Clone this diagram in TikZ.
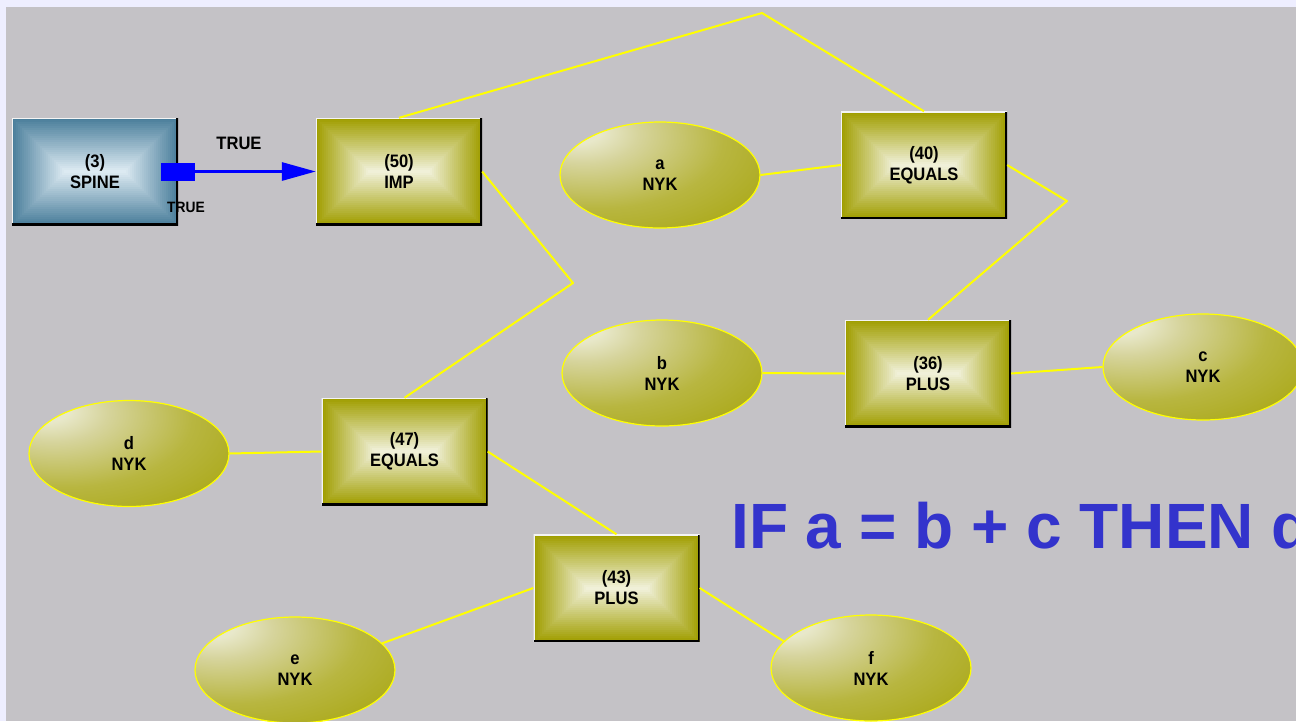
\documentclass[tikz,border=0pt]{standalone}
\usepackage{fontspec}
\setmainfont{Liberation Sans}
\newfontfamily\nodefont[FakeStretch=0.92]{Liberation Sans}
\newfontfamily\titlefont{Liberation Sans}
\usetikzlibrary{calc,arrows.meta,shapes.geometric}

\definecolor{bgcol}{HTML}{C4C2C6}
\definecolor{lavcol}{HTML}{EEEEFF}
\definecolor{boxdark}{HTML}{A09E00}
\definecolor{boxlight}{HTML}{F0F0D8}
\definecolor{spinedark}{HTML}{4A7E9B}
\definecolor{spinelight}{HTML}{DCEAF2}
\definecolor{elhi}{HTML}{E8E8CA}
\definecolor{elsoft}{HTML}{D6D49C}
\definecolor{elmid}{HTML}{B8B640}
\definecolor{eldark}{HTML}{A2A000}
\definecolor{bevelhi}{HTML}{F4F4F4}
\definecolor{wirecol}{HTML}{FFFF00}
\definecolor{titleblue}{HTML}{3333CC}
\definecolor{linkblue}{HTML}{0000FF}

\pgfdeclareradialshading{ellshade}{\pgfpoint{-22bp}{22bp}}{%
  color(0bp)=(elhi); color(6bp)=(elhi); color(14bp)=(elsoft);
  color(32bp)=(elmid); color(58bp)=(eldark); color(120bp)=(eldark)}

\newcommand\bevelfill[2]{%
  \foreach \i in {0,...,26}{%
    \pgfmathtruncatemacro\pp{100-\i*100/26}%
    \fill[#1!\pp!#2] ($(path picture bounding box.south west)+(\i*2pt,\i*2pt)$)
      rectangle ($(path picture bounding box.north east)-(\i*2pt,\i*2pt)$);
  }%
  \draw[line width=2pt, bevelhi] (path picture bounding box.south west) |- (path picture bounding box.north east);
  \draw[line width=4pt, black] (path picture bounding box.north east) |- (path picture bounding box.south west);
}

\tikzset{
  nodetext/.style={font=\nodefont\bfseries\fontsize{18}{21}\selectfont, align=center, text=black},
  opbox/.style={rectangle, minimum width=166pt, minimum height=107pt, inner sep=0pt,
    nodetext, path picture={\bevelfill{boxdark}{boxlight}}},
  spinebox/.style={rectangle, minimum width=166pt, minimum height=107pt, inner sep=0pt,
    nodetext, path picture={\bevelfill{spinedark}{spinelight}}},
  varell/.style={ellipse, minimum width=200pt, minimum height=106pt, inner sep=0pt,
    shading=ellshade, draw=wirecol, line width=1.2pt, nodetext},
  wire/.style={draw=wirecol, line width=2pt, line join=round},
  linklabel/.style={nodetext, inner sep=0pt},
}

\begin{document}
\begin{tikzpicture}[x=1pt, y=-1pt]
  \useasboundingbox (0,0) rectangle (1296,721);
  \clip (0,0) rectangle (1296,721);
  \fill[lavcol] (0,0) rectangle (1296,721);
  \fill[bgcol] (6,7) rectangle (1296,721);

  % nodes
  \node[spinebox] (spine) at (95,171.5) {(3)\\SPINE};
  \node[opbox] (imp) at (399,171.5) {(50)\\IMP};
  \node[opbox] (eq40) at (924,165) {(40)\\EQUALS};
  \node[opbox] (plus36) at (928,373.5) {(36)\\PLUS};
  \node[opbox] (eq47) at (404.5,451.5) {(47)\\EQUALS};
  \node[opbox] (plus43) at (616.5,588) {(43)\\PLUS};

  \node[varell] (a) at (660,175) {a\\NYK};
  \node[varell] (b) at (662,373) {b\\NYK};
  \node[varell] (c) at (1203,367) {c\\NYK};
  \node[varell] (d) at (129,453.5) {d\\NYK};
  \node[varell] (e) at (295,670) {e\\NYK};
  \node[varell] (f) at (871,668) {f\\NYK};

  % bend points
  \coordinate (k1) at (762,13);
  \coordinate (k2) at (573,283);
  \coordinate (k3) at (1067,201);

  % yellow connectors
  \draw[wire] (imp.north) -- (k1) -- (eq40.north);
  \draw[wire] (imp.east) -- (k2) -- (eq47.north);
  \draw[wire] (a.east) -- (eq40.west);
  \draw[wire] (eq40.east) -- (k3) -- (plus36.north);
  \draw[wire] (b.east) -- (plus36.west);
  \draw[wire] (plus36.east) -- (c.west);
  \draw[wire] (d.east) -- (eq47.west);
  \draw[wire] (eq47.east) -- (plus43.north);
  \draw[wire] (plus43.west) -- (e.17);
  \draw[wire] (plus43.east) -- (f.163);

  % blue link
  \draw[linkblue, line width=3pt,
    {Square[length=34pt,width=18pt]}-{Triangle[length=34pt,width=18pt]},
    shorten <=-17pt] (spine.east) -- (imp.west);
  \node[linklabel] (t1) at (239,143) {TRUE};
  \node[linklabel, font=\nodefont\bfseries\fontsize{15}{17}\selectfont] (t2) at (186,207) {TRUE};

  % title (cut off at the right edge, as in the reference)
  \node[anchor=base west, inner sep=0pt, text=titleblue,
    font=\titlefont\bfseries\fontsize{64}{70}\selectfont] (title) at (731,548) {IF a = b + c THEN d};
\end{tikzpicture}
\end{document}
